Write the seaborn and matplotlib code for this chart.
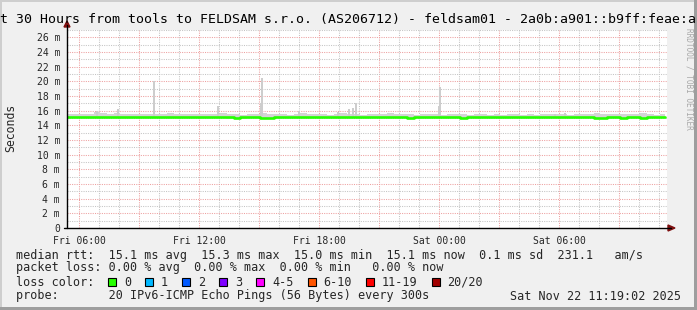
import matplotlib
matplotlib.use("Agg")
import matplotlib.pyplot as plt
import seaborn as sns
import numpy as np
import pandas as pd
from matplotlib.patches import Rectangle, Polygon

# ---------------- data ----------------
# 20-minute bins starting Fri 05:24 (hours since start)
bin_hours = 1.0 / 3.0
median_ms = [
    15.2, 15.2, 15.1, 15.2, 15.2, 15.2, 15.1, 15.2, 15.2, 15.2,
    15.2, 15.1, 15.1, 15.2, 15.2, 15.2, 15.2, 15.2, 15.2, 15.2,
    15.2, 15.2, 15.2, 15.2, 15.2, 15.05, 15.1, 15.15, 15.15, 14.95,
    14.95, 15.15, 15.15, 15.15, 15.15, 15.15, 15.15, 15.15, 15.15, 15.15,
    15.15, 15.15, 15.15, 15.15, 15.15, 15.15, 15.15, 15.15, 15.15, 15.15,
    15.15, 15.05, 15.15, 15.15, 15.15, 15.15, 15.15, 15.15, 15.15, 15.05,
    15.15, 15.15, 15.15, 15.15, 15.15, 15.15, 15.15, 15.15, 15.15, 15.15,
    15.15, 15.15, 15.15, 15.15, 15.15, 15.15, 15.15, 15.15, 15.15, 15.05,
    15.05, 15.15, 15.15, 15.05, 15.1, 15.15, 15.05, 15.15, 15.15, 15.15,
]
smoke_hi = [
    15.6, 15.55, 15.5, 15.55, 15.8, 15.75, 15.55, 15.65, 15.5, 15.55,
    15.55, 15.5, 15.6, 15.55, 15.5, 15.65, 15.55, 15.5, 15.55, 15.6,
    15.55, 15.5, 15.55, 15.65, 15.6, 15.5, 15.45, 15.55, 15.5, 15.65,
    15.55, 15.5, 15.55, 15.45, 15.55, 15.75, 15.5, 15.55, 15.5, 15.45,
    15.6, 15.65, 15.55, 15.5, 15.45, 15.55, 15.5, 15.55, 15.65, 15.55,
    15.5, 15.55, 15.45, 15.5, 15.55, 15.5, 15.45, 15.5, 15.55, 15.5,
    15.45, 15.5, 15.55, 15.45, 15.5, 15.45, 15.55, 15.5, 15.45, 15.5,
    15.45, 15.5, 15.55, 15.6, 15.5, 15.45, 15.55, 15.5, 15.6, 15.65,
    15.55, 15.5, 15.55, 15.6, 15.5, 15.55, 15.65, 15.5, 15.45, 15.5,
]
smoke_lo = [
    15.0, 15.0, 14.95, 15.0, 15.0, 15.0, 14.95, 15.0, 15.0, 15.0,
    15.0, 14.95, 14.95, 15.0, 15.0, 15.0, 15.0, 15.0, 15.0, 15.0,
    15.0, 15.0, 15.0, 15.0, 14.85, 14.85, 14.9, 15.0, 15.0, 14.8,
    14.8, 15.0, 15.0, 15.0, 15.0, 15.0, 15.0, 15.0, 15.0, 15.0,
    15.0, 15.0, 15.0, 15.0, 15.0, 15.0, 15.0, 15.0, 15.0, 15.0,
    15.0, 14.9, 15.0, 15.0, 15.0, 15.0, 15.0, 15.0, 15.0, 14.9,
    15.0, 15.0, 15.0, 15.0, 15.0, 15.0, 15.0, 15.0, 15.0, 15.0,
    15.0, 15.0, 15.0, 15.0, 15.0, 15.0, 15.0, 15.0, 15.0, 14.9,
    14.9, 15.0, 15.0, 14.9, 14.95, 15.0, 14.9, 15.0, 15.0, 15.0,
]
data_end_hours = 29.9

# isolated smoke spikes (hours since start, top in ms)
spike_hours = [1.5, 2.55, 4.35, 7.55, 9.7, 9.75, 11.6, 13.55, 14.1, 14.3, 14.45, 18.6, 18.65, 24.4, 24.9]
spike_top = [15.9, 16.2, 20.1, 16.6, 17.0, 20.5, 16.0, 15.8, 16.2, 16.3, 17.0, 16.6, 19.2, 15.6, 15.7]

tick_hours = [0.6, 6.6, 12.6, 18.6, 24.6]
tick_labels = ["Fri 06:00", "Fri 12:00", "Fri 18:00", "Sat 00:00", "Sat 06:00"]
ytick_values = list(range(0, 27, 2))
ytick_labels = ["0"] + [f"{v} m" for v in ytick_values[1:]]

title = "t 30 Hours from tools to FELDSAM s.r.o. (AS206712) - feldsam01 - 2a0b:a901::b9ff:feae:a"
legend_rows = [
    "median rtt:  15.1 ms avg  15.3 ms max  15.0 ms min  15.1 ms now  0.1 ms sd  231.1   am/s",
    "packet loss: 0.00 % avg  0.00 % max  0.00 % min   0.00 % now",
    "loss color:",
    "probe:       20 IPv6-ICMP Echo Pings (56 Bytes) every 300s",
]
stamp = "Sat Nov 22 11:19:02 2025"
loss_labels = ["0", "1", "2", "3", "4-5", "6-10", "11-19", "20/20"]
loss_colors = ["#26ff00", "#00b8ff", "#0059ff", "#7e00ff", "#ff00ff", "#ff5500", "#ff0000", "#a10000"]

# ---------------- drawing ----------------
W, H = 697, 310
MONO = "DejaVu Sans Mono"
sns.set_style("white")
plt.rcParams["font.family"] = [MONO, "DejaVu Sans"]

fig = plt.figure(figsize=(W / 100, H / 100), dpi=100, facecolor="#f0f0f0")


def fx(x):
    return x / W


def fy(y):
    return 1 - y / H


ax = fig.add_axes([fx(67), fy(228), 600 / W, 198 / H])
ax.set_facecolor("white")
ax.set_xlim(0, 30)
ax.set_ylim(0, 27)
for s in ax.spines.values():
    s.set_visible(False)

# grid
minor_gray = "#c4c4c4"
major_red = "#eda0a0"
hour_lines = np.arange(0.6, 30, 1.0)
for h in hour_lines:
    is_major = abs(((h - 0.6) / 3) - round((h - 0.6) / 3)) < 1e-6
    ax.axvline(h, color=major_red if is_major else minor_gray, lw=0.75,
               linestyle=(0, (1, 1.2)), zorder=0)
for v in range(1, 28):
    ax.axhline(v, color=major_red if v % 2 == 0 else minor_gray, lw=0.75,
               linestyle=(0, (1, 1.2)), zorder=0)

n = len(median_ms)
t = np.arange(n) * bin_hours
t_ext = np.append(t, data_end_hours)
lo_ext = np.append(smoke_lo, smoke_lo[-1])
hi_ext = np.append(smoke_hi, smoke_hi[-1])
med_ext = np.append(median_ms, median_ms[-1])

ax.fill_between(t_ext, lo_ext, hi_ext, step="post", color="#d4d4d4", lw=0, zorder=2)
ax.bar(spike_hours, np.array(spike_top) - 15.3, bottom=15.3, width=0.12,
       color="#cdcdcd", lw=0, align="center", zorder=2)

df = pd.DataFrame({"t": t_ext, "median": med_ext})
sns.lineplot(data=df, x="t", y="median", ax=ax, color="#26ff00", lw=1.9,
             drawstyle="steps-post", estimator=None, zorder=4)
ax.set_xlabel("")
ax.set_ylabel("")

ax.set_xticks(tick_hours)
ax.set_xticklabels(tick_labels, fontsize=7, family=MONO)
ax.set_yticks(ytick_values)
ax.set_yticklabels(ytick_labels, fontsize=7, family=MONO)
ax.tick_params(axis="both", length=3, width=0.8, color="black", pad=2)
ax.tick_params(axis="x", pad=3)

# axis lines with arrows
fig.add_artist(plt.Line2D([fx(67), fx(67)], [fy(228), fy(25)], color="black", lw=1.0))
fig.add_artist(plt.Line2D([fx(64), fx(671)], [fy(228), fy(228)], color="black", lw=1.0))
fig.add_artist(Polygon([[fx(64), fy(27)], [fx(70), fy(27)], [fx(67), fy(21)]],
                       closed=True, color="#7f1010", transform=fig.transFigure))
fig.add_artist(Polygon([[fx(668), fy(225)], [fx(668), fy(231)], [fx(675), fy(228)]],
                       closed=True, color="#7f1010", transform=fig.transFigure))

# title, unit label, watermark
fig.text(fx(348), fy(19), title, ha="center", va="center", fontsize=9.5, family=MONO, color="black")
fig.text(fx(11), fy(128), "Seconds", rotation=90, ha="center", va="center", fontsize=8.3, family=MONO)
fig.text(fx(689), fy(28), "RRDTOOL / TOBI OETIKER", rotation=-90, ha="center", va="top",
         fontsize=5.6, family=MONO, color="#a8a8a8")

# legend
row_y = [255, 268, 282, 296]
for y, txt in zip(row_y, legend_rows):
    fig.text(fx(16), fy(y), txt, ha="left", va="center", fontsize=8.5, family=MONO)
fig.text(fx(681), fy(row_y[3]), stamp, ha="right", va="center", fontsize=8.5, family=MONO)

char_w = 7.1
bx = 108.0
for lab, col in zip(loss_labels, loss_colors):
    fig.add_artist(Rectangle((fx(bx), fy(286)), 8 / W, 8 / H, transform=fig.transFigure,
                             facecolor=col, edgecolor="black", lw=0.8))
    fig.text(fx(bx + 16), fy(row_y[2]), lab, ha="left", va="center", fontsize=8.5, family=MONO)
    bx = bx + 16 + len(lab) * char_w + 14

# 3D frame
fig.add_artist(Rectangle((0, fy(2)), 1, 2 / H, transform=fig.transFigure, color="#cecece", lw=0))
fig.add_artist(Rectangle((0, 0), 2 / W, 1, transform=fig.transFigure, color="#cecece", lw=0))
fig.add_artist(Rectangle((0, 0), 1, 3 / H, transform=fig.transFigure, color="#9e9e9e", lw=0))
fig.add_artist(Rectangle((fx(694), 0), 3 / W, 1, transform=fig.transFigure, color="#9e9e9e", lw=0))

fig.savefig("out.png", dpi=100, facecolor=fig.get_facecolor())
